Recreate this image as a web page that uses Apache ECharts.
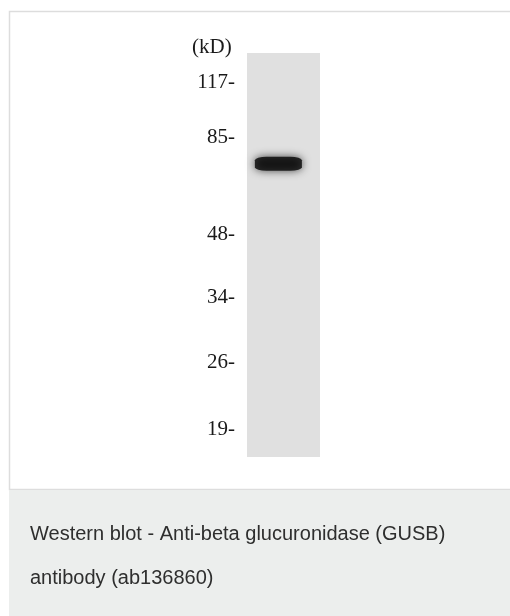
<!DOCTYPE html>
<html><head><meta charset="utf-8">
<script src="https://cdn.jsdelivr.net/npm/echarts@6/dist/echarts.min.js"></script>
<style>html,body{margin:0;padding:0;background:#fff}#c{width:510px;height:616px}</style>
</head><body><div id="c"></div>
<script>
// Molecular weight markers (kD) and their relative migration (% of lane length)
var markerKD = ['117', '85', '48', '34', '26', '19'];
var markerMigration = [7.4, 21.0, 45.0, 60.4, 76.7, 93.3];
// Detected band: lane position (0..1 across lane) and migration (%)
var bandLane = [0.43];
var bandMigration = [27.4];
var unitLabel = '(kD)';
var captionLines = ['Western blot - Anti-beta glucuronidase (GUSB)', 'antibody (ab136860)'];

var chart = echarts.init(document.getElementById('c'), null, {renderer: 'canvas'});
var labelMap = {};
markerMigration.forEach(function (m, i) { labelMap[m] = markerKD[i]; });

chart.setOption({
  animation: false,
  backgroundColor: '#ffffff',
  graphic: [
    {type: 'rect', z: -10, shape: {x: 9.5, y: 11.5, width: 520, height: 478}, style: {fill: '#ffffff', stroke: '#dddddd', lineWidth: 1.5}},
    {type: 'rect', z: -10, shape: {x: 9, y: 490, width: 510, height: 140}, style: {fill: '#eceeed'}},
    {type: 'text', left: 192, top: 37, style: {text: unitLabel, font: '21px "Liberation Serif"', fill: '#1a1a1a'}},
    {type: 'text', left: 30, top: 512, style: {text: captionLines.join('\n'), font: '20px "Liberation Sans"', lineHeight: 44, fill: '#2e2e2e'}}
  ],
  grid: {left: 247, width: 73, top: 53, height: 404, show: true, backgroundColor: '#e0e0e0', borderWidth: 0},
  xAxis: {type: 'value', min: 0, max: 1, show: false},
  yAxis: {
    type: 'value', min: 0, max: 100, inverse: true,
    axisLine: {show: false}, axisTick: {show: false}, splitLine: {show: false},
    axisLabel: {
      customValues: markerMigration,
      margin: 12,
      formatter: function (v) { return (labelMap[v] || '') + '-'; },
      fontFamily: 'Liberation Serif', fontSize: 21, color: '#1a1a1a'
    }
  },
  series: [{
    type: 'scatter',
    data: bandLane.map(function (x, i) { return [x, bandMigration[i]]; }),
    symbol: 'roundRect',
    symbolSize: [47, 14],
    itemStyle: {color: '#050505', shadowBlur: 8, shadowColor: 'rgba(0,0,0,0.85)'}
  }]
});
</script></body></html>
